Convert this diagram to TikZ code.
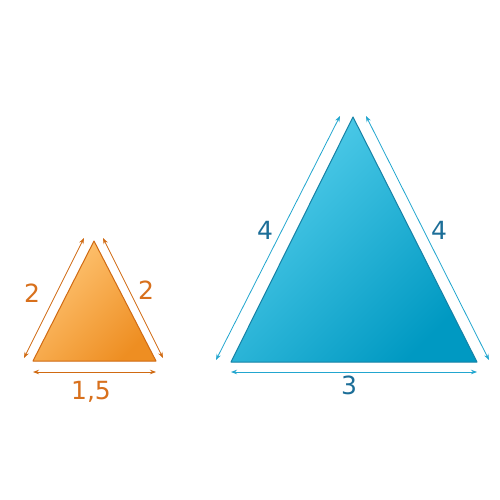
\documentclass[tikz,border=0pt]{standalone}
\usepackage{fontspec}
\setmainfont{DejaVu Sans}
\usetikzlibrary{arrows.meta}
\definecolor{orline}{HTML}{D06A12}
\definecolor{ortext}{HTML}{D8701C}
\definecolor{orlight}{HTML}{FFC676}
\definecolor{ordark}{HTML}{EE8E22}
\definecolor{blline}{HTML}{1682A6}
\definecolor{blarrow}{HTML}{22A6CF}
\definecolor{bltext}{HTML}{1C6E98}
\definecolor{bllight}{HTML}{55CFEC}
\definecolor{bldark}{HTML}{0099C2}
\tikzset{
  dimarrow/.style={line width=0.8pt, {Stealth[length=6pt,width=4.5pt]}-{Stealth[length=6pt,width=4.5pt]}},
  lab/.style={font=\fontsize{25}{28}\selectfont, inner sep=0pt}
}
\begin{document}
\begin{tikzpicture}[x=1pt,y=-1pt]
\useasboundingbox[fill=white] (0,0) rectangle (500,500);
% small orange triangle
\coordinate (sA) at (94,241);
\coordinate (sL) at (33,361);
\coordinate (sR) at (156,361);
\shadedraw[draw=orline, line width=1pt, line join=round, left color=orlight, right color=ordark, shading angle=45] (sA) -- (sR) -- (sL) -- cycle;
\coordinate (sa1) at (24,358);
\coordinate (sa2) at (84,238);
\coordinate (sb1) at (103,238);
\coordinate (sb2) at (163,358);
\coordinate (sc1) at (33,372);
\coordinate (sc2) at (156,372);
\draw[dimarrow, orline] (sa1) -- (sa2);
\draw[dimarrow, orline] (sb1) -- (sb2);
\draw[dimarrow, orline] (sc1) -- (sc2);
\node[lab, text=ortext] (l1) at (32,293) {2};
\node[lab, text=ortext] (l2) at (146,290) {2};
\node[lab, text=ortext] (l3) at (91,392) {1,5};
% big blue triangle
\coordinate (bA) at (353,117);
\coordinate (bL) at (231,362);
\coordinate (bR) at (477,362);
\shadedraw[draw=blline, line width=1pt, line join=round, left color=bllight, right color=bldark, shading angle=45] (bA) -- (bR) -- (bL) -- cycle;
\coordinate (ba1) at (216,360);
\coordinate (ba2) at (340,116);
\coordinate (bb1) at (366,116);
\coordinate (bb2) at (489,360);
\coordinate (bc1) at (231,372);
\coordinate (bc2) at (477,372);
\draw[dimarrow, blarrow] (ba1) -- (ba2);
\draw[dimarrow, blarrow] (bb1) -- (bb2);
\draw[dimarrow, blarrow] (bc1) -- (bc2);
\node[lab, text=bltext] (m1) at (265,230) {4};
\node[lab, text=bltext] (m2) at (439,230) {4};
\node[lab, text=bltext] (m3) at (349,385) {3};
\end{tikzpicture}
\end{document}
